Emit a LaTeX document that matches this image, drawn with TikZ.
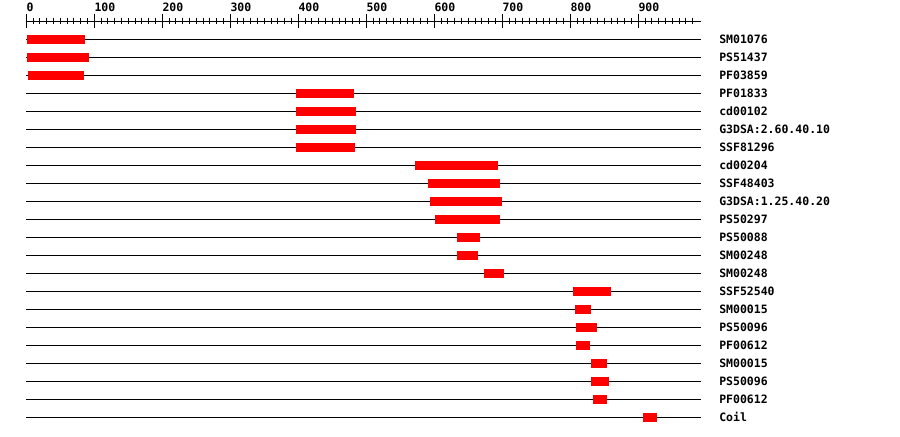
\documentclass[tikz,border=0pt]{standalone}
\usepackage{fontspec}
\setmonofont{DejaVu Sans Mono}
\usepackage{xcolor}
\usepackage{tikz}
\definecolor{domainred}{HTML}{FF0000}

\tikzset{
    track/.style={line width=1pt, black},
    domainbar/.style={fill=domainred},
    ruler/.style={line width=1pt, black},
    monotext/.style={inner sep=0pt, font=\ttfamily\bfseries\fontsize{11.5}{13}\selectfont},
}

\begin{document}
\begin{tikzpicture}[x=0.68pt, y=-1pt]
    \useasboundingbox (-38.68,0) rectangle (1284.8,436);

    \draw[ruler] (0,21) -- (992,21);
    \foreach \pos in {10,20,...,980}
        \draw[ruler] (\pos,18) -- (\pos,24);
    \foreach \pos in {0,100,...,900} {
        \draw[ruler] (\pos,14) -- (\pos,28);
        \node[monotext, anchor=base west] (tick\pos) at (\pos,12) {\pos};
    }

    \foreach \name/\from/\to [count=\i] in {
        SM01076/1/86, PS51437/1/92, PF03859/2/85,
        PF01833/397/482, cd00102/397/485, G3DSA:2.60.40.10/397/485,
        SSF81296/397/483, cd00204/572/694, SSF48403/591/697,
        G3DSA:1.25.40.20/594/700, PS50297/601/697, PS50088/633/667,
        SM00248/633/664, SM00248/673/703, SSF52540/804/860,
        SM00015/807/830, PS50096/808/839, PF00612/808/829,
        SM00015/830/854, PS50096/830/857, PF00612/833/854,
        Coil/907/928} {
        \pgfmathsetmacro\ypos{39+18*(\i-1)}
        \draw[track] (0,\ypos) -- (992,\ypos);
        \fill[domainbar] (\from,\ypos-4.5) rectangle (\to,\ypos+4.5);
        \node[monotext, anchor=west] (label\i) at (1018.7,\ypos) {\name};
    }
\end{tikzpicture}
\end{document}
